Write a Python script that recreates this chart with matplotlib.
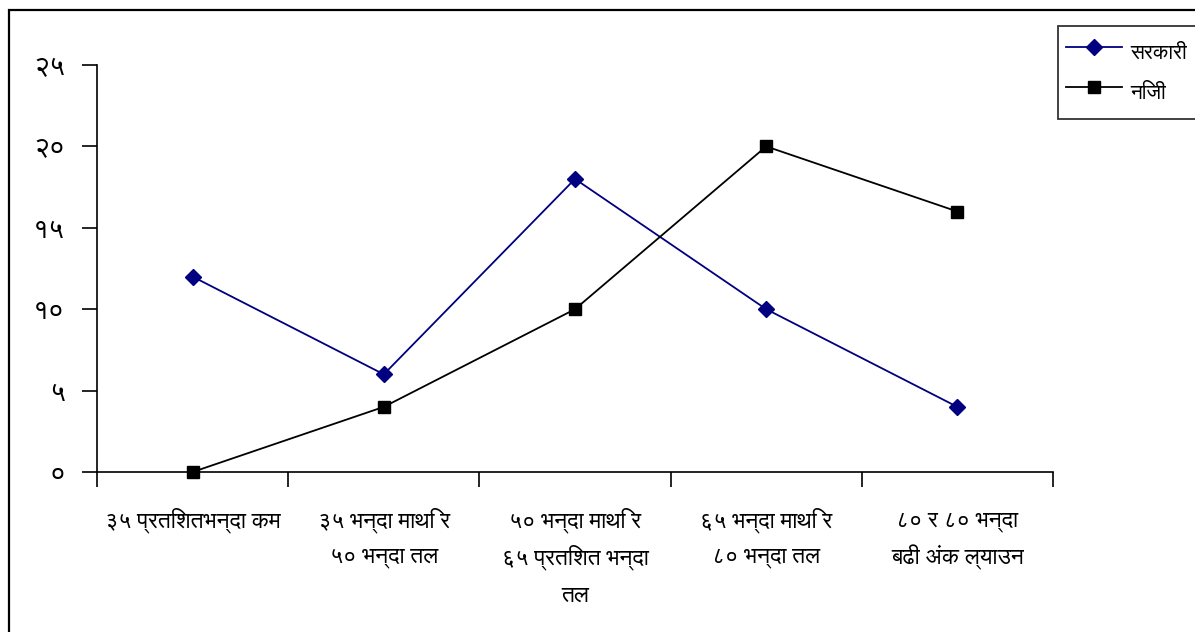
import matplotlib
matplotlib.use("Agg")
import matplotlib.pyplot as plt
from matplotlib.patches import Rectangle

categories = ["३५ प्रतिशतभन्दा कम", "३५ भन्दा माथि र\n५० भन्दा तल",
              "५० भन्दा माथि र\n६५ प्रतिशत भन्दा\nतल", "६५ भन्दा माथि र\n८० भन्दा तल",
              "८० र ८० भन्दा\nबढी अंक ल्याउन"]
sarkari = [12, 6, 18, 10, 4]
niji = [0, 4, 10, 20, 16]
ytick_vals = [0, 5, 10, 15, 20, 25]
ytick_labels = ["०", "५", "१०", "१५", "२०", "२५"]
series_names = ["सरकारी", "निजी"]

plt.rcParams['font.family'] = ['FreeSans', 'Noto Sans Devanagari', 'DejaVu Sans']

W, H = 1195, 632
fig = plt.figure(figsize=(W / 100, H / 100), dpi=100)
ax = fig.add_axes([97 / W, 1 - 472 / H, (1053 - 97) / W, (472 - 65) / H])

x = [i + 0.5 for i in range(len(categories))]
ax.plot(x, sarkari, color="#000080", marker="D", markersize=8, lw=1.3,
        label=series_names[0], clip_on=False, zorder=3)
ax.plot(x, niji, color="black", marker="s", markersize=8, lw=1.3,
        label=series_names[1], clip_on=False, zorder=3)

ax.set_xlim(0, len(categories))
ax.set_ylim(0, 25)
ax.set_xticks(range(len(categories) + 1))
ax.set_xticklabels([])
ax.tick_params(axis="x", which="major", length=11, width=1.2, direction="out")

# category labels, one text per line so line spacing is uniform
line_offsets_px = [48, 85, 123]
for xi, lab in zip(x, categories):
    for j, line in enumerate(lab.split("\n")):
        ax.annotate(line, xy=(xi, 0), xycoords=("data", "axes fraction"),
                    xytext=(0, -line_offsets_px[j] * 0.72), textcoords="offset points",
                    ha="center", va="center", fontsize=16.5, annotation_clip=False)

ax.set_yticks(ytick_vals)
ax.set_yticklabels(ytick_labels, fontsize=20)
ax.tick_params(axis="y", length=11, width=1.2, pad=12)
for s in ["top", "right"]:
    ax.spines[s].set_visible(False)
for s in ["left", "bottom"]:
    ax.spines[s].set_linewidth(1.2)

leg = fig.legend(loc="upper left", bbox_to_anchor=(1058 / W, 1 - 26 / H, 200 / W, 0.0),
                 mode="expand", frameon=True, fancybox=False, edgecolor="black",
                 fontsize=15, handlelength=2.65, handleheight=2.3, borderpad=0.4,
                 labelspacing=0.2, handletextpad=0.4, borderaxespad=0)
leg.get_frame().set_linewidth(1.3)

fig.patches.append(Rectangle((8.5 / W, -0.1), 1.2, 1 - 10 / H + 0.1, transform=fig.transFigure,
                             fill=False, edgecolor="black", lw=1.6, zorder=-1))
fig.savefig("out.png", dpi=100)
